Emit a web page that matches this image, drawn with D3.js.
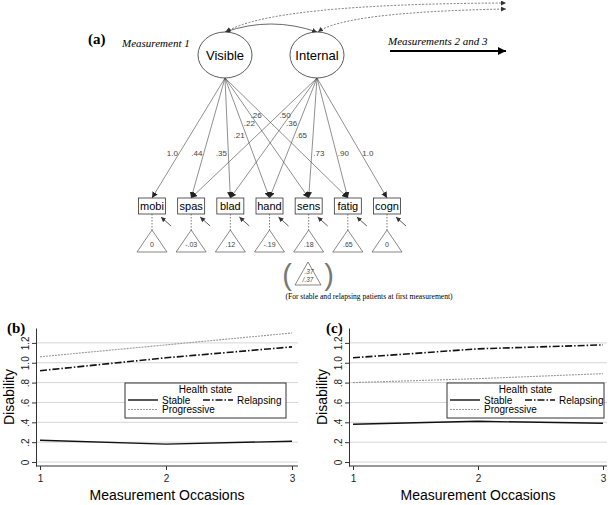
<!DOCTYPE html>
<html><head><meta charset="utf-8">
<script src="https://cdn.jsdelivr.net/npm/d3@7"></script>
<style>body{margin:0;background:#fff}svg{display:block}</style>
</head><body>
<svg id="chart" width="610" height="505"></svg>
<script>
// ---------- data ----------
const indicators = ["mobi","spas","blad","hand","sens","fatig","cogn"];
const intercepts = ["0","-.03",".12","-.19",".18",".65","0"];
const factors = ["Visible","Internal"];
const visibleLoadings = [["mobi","1.0"],["spas",".44"],["blad",".35"],["hand",".21"],["sens",".22"],["fatig",".26"]];
const internalLoadings = [["spas",".50"],["blad",".36"],["hand",".65"],["sens",".73"],["fatig",".90"],["cogn","1.0"]];
const extraIntercept = [".37","/.37"];
const caption = "(For stable and relapsing patients at first measurement)";
const occasions = [1,2,3];
const healthStates = ["Stable","Relapsing","Progressive"];
const panelBStable = [0.22,0.18,0.21];
const panelBRelapsing = [0.92,1.05,1.16];
const panelBProgressive = [1.06,1.18,1.30];
const panelCStable = [0.38,0.41,0.39];
const panelCRelapsing = [1.05,1.14,1.18];
const panelCProgressive = [0.80,0.84,0.89];
const yTicks = [0,0.2,0.4,0.6,0.8,1.0,1.2];
const yTickLabels = ["0",".2",".4",".6",".8","1.0","1.2"];
const xTickLabels = ["1","2","3"];

// ---------- layout ----------
const svg = d3.select("#chart");
const SANS = "Liberation Sans, Arial, sans-serif";
const SERIF = "Liberation Serif, Times New Roman, serif";

const defs = svg.append("defs");
function marker(id, size, color){
  defs.append("marker").attr("id",id).attr("viewBox","0 0 10 10")
    .attr("refX",10).attr("refY",5).attr("markerWidth",size).attr("markerHeight",size)
    .attr("orient","auto-start-reverse").attr("markerUnits","userSpaceOnUse")
    .append("path").attr("d","M0,0L10,5L0,10z").attr("fill",color);
}
marker("ah",6,"#222");
marker("ahs",5,"#333");
marker("ahb",8,"#000");

// ===== panel (a) =====
const xInd = d3.scalePoint().domain(indicators).range([152,387]);
const xFac = d3.scalePoint().domain(factors).range([225,317]);
const facCY = 55, facRX = 27, facRY = 23;
const boxTop = 198, boxH = 16, boxW = 27;
const triTop = 230, triBot = 252, triHW = 15;

const ga = svg.append("g");
ga.append("text").attr("x",88).attr("y",44).attr("font-family",SERIF).attr("font-weight","bold")
  .attr("font-size",15).text("(a)");
ga.append("text").attr("x",122).attr("y",47).attr("font-family",SERIF).attr("font-style","italic")
  .attr("font-size",11).text("Measurement 1");
ga.append("text").attr("x",388).attr("y",45).attr("font-family",SERIF).attr("font-style","italic")
  .attr("font-size",11).text("Measurements 2 and 3");
ga.append("line").attr("x1",390).attr("y1",51).attr("x2",506).attr("y2",51)
  .attr("stroke","#000").attr("stroke-width",2).attr("marker-end","url(#ahb)");

// curves above factors
const vTop = [xFac("Visible"), facCY-facRY], iTop = [xFac("Internal"), facCY-facRY];
ga.append("path").attr("d",`M${vTop[0]},${vTop[1]} Q${(vTop[0]+iTop[0])/2},${vTop[1]-16} ${iTop[0]},${iTop[1]}`)
  .attr("fill","none").attr("stroke","#444").attr("stroke-width",0.8)
  .attr("marker-start","url(#ahs)").attr("marker-end","url(#ahs)");
ga.append("path").attr("d",`M${vTop[0]+1},${vTop[1]} Q270,4 506,3`)
  .attr("fill","none").attr("stroke","#555").attr("stroke-width",0.8).attr("stroke-dasharray","2,1.5")
  .attr("marker-start","url(#ahs)").attr("marker-end","url(#ahs)");
ga.append("path").attr("d",`M${iTop[0]+1},${iTop[1]} Q345,12 506,9`)
  .attr("fill","none").attr("stroke","#555").attr("stroke-width",0.8).attr("stroke-dasharray","2,1.5")
  .attr("marker-start","url(#ahs)").attr("marker-end","url(#ahs)");

// factors
factors.forEach(f=>{
  ga.append("ellipse").attr("cx",xFac(f)).attr("cy",facCY).attr("rx",facRX).attr("ry",facRY)
    .attr("fill","#fff").attr("stroke","#333").attr("stroke-width",0.8);
  ga.append("text").attr("x",xFac(f)).attr("y",facCY+4.5).attr("text-anchor","middle")
    .attr("font-family",SANS).attr("font-size",13).text(f);
});

// loadings
const originY = facCY + facRY;
const labelT = {Visible:{mobi:.625,spas:.625,blad:.625,hand:.475,sens:.375,fatig:.31},
                Internal:{spas:.31,blad:.375,hand:.475,sens:.625,fatig:.625,cogn:.625}};
function drawLoadings(fac, arr, side){
  arr.forEach(([ind,lab])=>{
    const x0 = xFac(fac), y0 = originY, x1 = xInd(ind), y1 = boxTop;
    ga.append("line").attr("x1",x0).attr("y1",y0).attr("x2",x1).attr("y2",y1)
      .attr("stroke","#444").attr("stroke-width",0.6).attr("marker-end","url(#ah)");
    const t = labelT[fac][ind];
    const lx = x0 + (x1-x0)*t, ly = y0 + (y1-y0)*t;
    ga.append("text").attr("x",lx + side*1.5).attr("y",ly+3)
      .attr("text-anchor", side<0 ? "end":"start")
      .attr("font-family",SANS).attr("font-size",8).attr("fill","#444").text(lab);
  });
}
drawLoadings("Visible", visibleLoadings, -1);
drawLoadings("Internal", internalLoadings, 1);

// indicators
indicators.forEach((ind,i)=>{
  const cx = xInd(ind);
  ga.append("rect").attr("x",cx-boxW/2).attr("y",boxTop).attr("width",boxW).attr("height",boxH)
    .attr("fill","#fff").attr("stroke","#333").attr("stroke-width",0.8);
  ga.append("text").attr("x",cx).attr("y",boxTop+12).attr("text-anchor","middle")
    .attr("font-family",SANS).attr("font-size",11).text(ind);
  ga.append("line").attr("x1",cx+19).attr("y1",boxTop+boxH+12).attr("x2",cx+9).attr("y2",boxTop+boxH+3)
    .attr("stroke","#333").attr("stroke-width",0.8).attr("marker-end","url(#ahs)");
  ga.append("line").attr("x1",cx).attr("y1",boxTop+boxH).attr("x2",cx).attr("y2",triTop)
    .attr("stroke","#555").attr("stroke-width",0.8).attr("stroke-dasharray","1.5,1.5");
  ga.append("path").attr("d",`M${cx},${triTop}L${cx+triHW},${triBot}L${cx-triHW},${triBot}Z`)
    .attr("fill","#fff").attr("stroke","#555").attr("stroke-width",0.7);
  ga.append("text").attr("x",cx).attr("y",triBot-5).attr("text-anchor","middle")
    .attr("font-family",SANS).attr("font-size",7).attr("fill","#444").text(intercepts[i]);
});

// extra triangle
const ecx = 308, eTop = 262, eBot = 285;
ga.append("path").attr("d",`M${ecx},${eTop}L${ecx+13},${eBot}L${ecx-13},${eBot}Z`)
  .attr("fill","#fff").attr("stroke","#555").attr("stroke-width",0.7);
ga.append("text").attr("x",ecx+1).attr("y",eTop+12).attr("text-anchor","middle")
  .attr("font-family",SANS).attr("font-size",6.5).attr("font-style","italic").attr("fill","#444").text(extraIntercept[0]);
ga.append("text").attr("x",ecx).attr("y",eTop+20).attr("text-anchor","middle")
  .attr("font-family",SANS).attr("font-size",6.5).attr("font-style","italic").attr("fill","#444").text(extraIntercept[1]);
ga.append("text").attr("x",ecx-21).attr("y",eBot).attr("text-anchor","middle")
  .attr("font-family",SANS).attr("font-size",29).attr("fill","#777").text("(");
ga.append("text").attr("x",ecx+21).attr("y",eBot).attr("text-anchor","middle")
  .attr("font-family",SANS).attr("font-size",29).attr("fill","#777").text(")");
ga.append("text").attr("x",369).attr("y",299).attr("text-anchor","middle")
  .attr("font-family",SERIF).attr("font-size",7.6).text(caption);

// ===== panels (b) & (c) =====
const y = d3.scaleLinear().domain([-0.04,1.35]).range([466,328]);
const styles = {
  Stable:{stroke:"#111",width:1.4,dash:null},
  Relapsing:{stroke:"#111",width:1.6,dash:"7,2,1.5,2"},
  Progressive:{stroke:"#999",width:1.1,dash:"2,1"}
};
const panels = [
  {label:"(b)", axisX:36, rightX:298, range:[40,292], labelX:7, titleX:9, tickLabX:25,
   legend:[125,286], data:{Stable:panelBStable,Relapsing:panelBRelapsing,Progressive:panelBProgressive}},
  {label:"(c)", axisX:349, rightX:607, range:[353,603], labelX:326, titleX:322, tickLabX:338,
   legend:[447,604], data:{Stable:panelCStable,Relapsing:panelCRelapsing,Progressive:panelCProgressive}}
];

panels.forEach(p=>{
  const g = svg.append("g");
  const x = d3.scaleLinear().domain([1,3]).range(p.range);
  // gridlines
  g.selectAll(".grid").data(yTicks).join("line")
    .attr("x1",p.axisX).attr("x2",p.rightX).attr("y1",d=>y(d)).attr("y2",d=>y(d))
    .attr("stroke","#d6d6d6").attr("stroke-width",1);
  // y axis
  const ya = g.append("g").attr("transform",`translate(${p.axisX},0)`)
    .call(d3.axisLeft(y).tickValues(yTicks).tickFormat((d,i)=>yTickLabels[i]).tickSize(4).tickSizeOuter(0));
  ya.select(".domain").attr("stroke","#333");
  ya.selectAll(".tick line").attr("stroke","#333");
  ya.selectAll(".tick text").attr("font-family",SANS).attr("font-size",10).attr("fill","#222")
    .attr("x",0).attr("dy",0).attr("text-anchor","middle")
    .attr("transform",`translate(${p.tickLabX-p.axisX+3.5},0) rotate(-90)`);
  // x axis
  const xa = g.append("g").attr("transform","translate(0,466)")
    .call(d3.axisBottom(x).tickValues(occasions).tickFormat((d,i)=>xTickLabels[i]).tickSize(4).tickSizeOuter(0));
  xa.select(".domain").attr("d",`M${p.axisX},0H${p.rightX}`).attr("stroke","#333");
  xa.selectAll(".tick line").attr("stroke","#333");
  xa.selectAll(".tick text").attr("font-family",SANS).attr("font-size",10).attr("fill","#222").attr("dy","0.9em");
  // titles
  g.append("text").attr("x",(p.axisX+p.rightX)/2).attr("y",500).attr("text-anchor","middle")
    .attr("font-family",SANS).attr("font-size",14).text("Measurement Occasions");
  g.append("text").attr("transform",`translate(${p.titleX+5},397) rotate(-90)`).attr("text-anchor","middle")
    .attr("font-family",SANS).attr("font-size",14).text("Disability");
  g.append("text").attr("x",p.labelX).attr("y",333).attr("font-family",SERIF).attr("font-weight","bold")
    .attr("font-size",15).text(p.label);
  // lines
  const line = d3.line().x((d,i)=>x(occasions[i])).y(d=>y(d));
  ["Progressive","Relapsing","Stable"].forEach(s=>{
    g.append("path").attr("d",line(p.data[s])).attr("fill","none")
      .attr("stroke",styles[s].stroke).attr("stroke-width",styles[s].width)
      .attr("stroke-dasharray",styles[s].dash);
  });
  // legend
  const [lx0,lx1] = p.legend;
  g.append("rect").attr("x",lx0).attr("y",383).attr("width",lx1-lx0).attr("height",35)
    .attr("fill","#fff").attr("stroke","#333").attr("stroke-width",1);
  g.append("text").attr("x",(lx0+lx1)/2).attr("y",393).attr("text-anchor","middle")
    .attr("font-family",SANS).attr("font-size",10).text("Health state");
  const entries = [
    {s:"Stable", x:lx0+3, y:400},
    {s:"Relapsing", x:lx0+78, y:400},
    {s:"Progressive", x:lx0+3, y:409.5}
  ];
  entries.forEach(e=>{
    const st = styles[e.s];
    g.append("line").attr("x1",e.x).attr("x2",e.x+30).attr("y1",e.y).attr("y2",e.y)
      .attr("stroke",st.stroke).attr("stroke-width",st.width).attr("stroke-dasharray",st.dash);
    g.append("text").attr("x",e.x+34).attr("y",e.y+3.5).attr("font-family",SANS).attr("font-size",10).text(e.s);
  });
});
</script>
</body></html>
